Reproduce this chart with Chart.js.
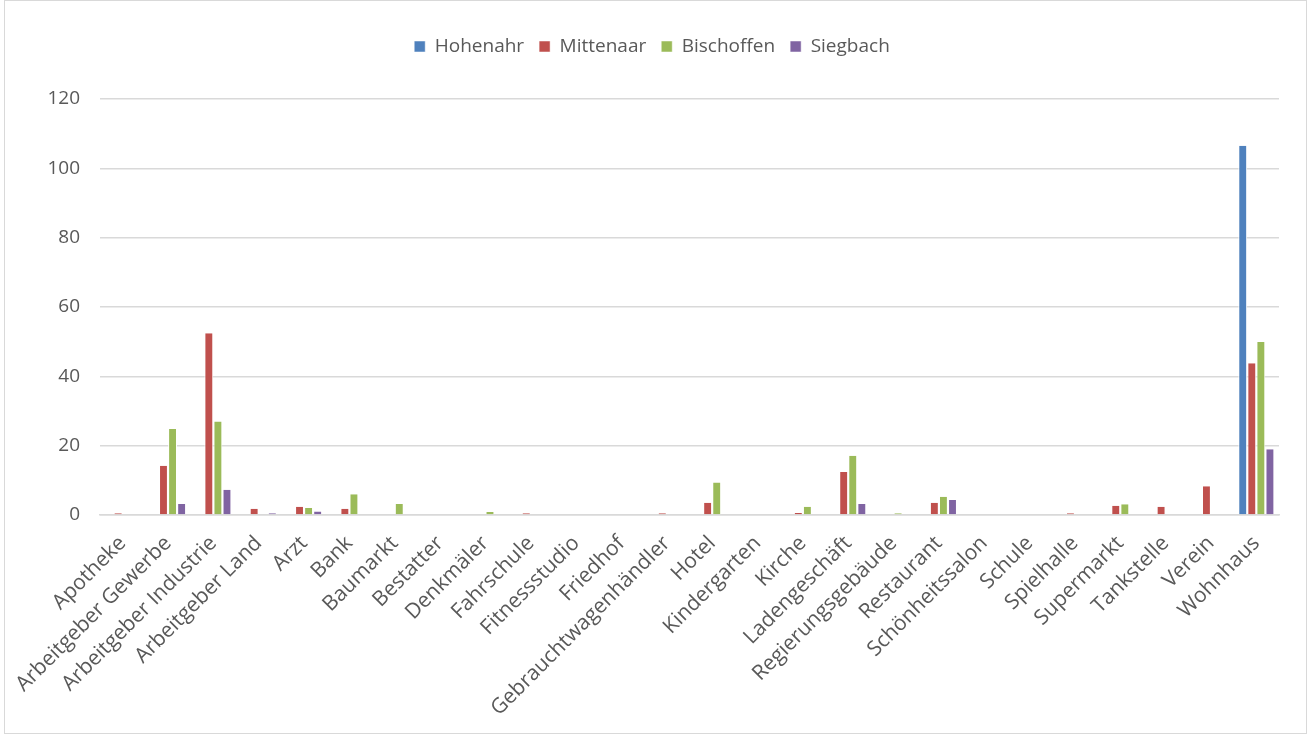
<!DOCTYPE html>
<html>
<head>
<meta charset="utf-8">
<script src="https://cdn.jsdelivr.net/npm/chart.js@4.4.1/dist/chart.umd.min.js"></script>
<style>
  html, body { margin: 0; padding: 0; background: #fff; }
  #wrap { position: absolute; left: 4px; top: 0; width: 1303px; height: 734px; border: 1px solid #d9d9d9; box-sizing: border-box; }
  canvas { display: block; }
</style>
</head>
<body>
<div id="wrap"><canvas id="chart"></canvas></div>
<script>
const categories = [
  'Apotheke', 'Arbeitgeber Gewerbe', 'Arbeitgeber Industrie', 'Arbeitgeber Land', 'Arzt', 'Bank',
  'Baumarkt', 'Bestatter', 'Denkmäler', 'Fahrschule', 'Fitnessstudio', 'Friedhof',
  'Gebrauchtwagenhändler', 'Hotel', 'Kindergarten', 'Kirche', 'Ladengeschäft', 'Regierungsgebäude',
  'Restaurant', 'Schönheitssalon', 'Schule', 'Spielhalle', 'Supermarkt', 'Tankstelle', 'Verein', 'Wohnhaus'
];
const hohenahr =   [0, 0, 0, 0, 0, 0, 0, 0, 0, 0, 0, 0, 0, 0, 0, 0, 0, 0, 0, 0, 0, 0, 0, 0, 0, 106.5];
const mittenaar =  [0.5, 14.2, 52.4, 1.8, 2.4, 1.8, 0, 0, 0, 0.5, 0, 0, 0.5, 3.5, 0, 0.6, 12.4, 0, 3.5, 0, 0, 0.5, 2.7, 2.4, 8.3, 43.8];
const bischoffen = [0, 24.8, 27, 0, 2, 6, 3.2, 0, 0.9, 0, 0, 0, 0, 9.4, 0, 2.4, 17.1, 0.5, 5.3, 0, 0, 0, 3.1, 0, 0, 49.9];
const siegbach =   [0, 3.2, 7.3, 0.5, 1, 0, 0, 0, 0, 0, 0, 0, 0, 0, 0, 0, 3.2, 0, 4.3, 0, 0, 0, 0, 0, 0, 19];
const yTicks = [0, 20, 40, 60, 80, 100, 120];

const textColor = '#595959';
const fontFamily = "'Open Sans', 'Liberation Sans', Arial, sans-serif";

function makeSet(label, data, color) {
  return {
    label: label,
    data: data,
    backgroundColor: color,
    borderColor: '#ffffff',
    borderWidth: { left: 1, right: 1, top: 0, bottom: 0 },
    categoryPercentage: 0.8,
    barPercentage: 0.98
  };
}

// extra space under the legend
const legendMargin = {
  id: 'legendMargin',
  beforeInit(chart) {
    const fit = chart.legend.fit;
    chart.legend.fit = function () {
      fit.bind(chart.legend)();
      this.height += 33;
    };
  }
};

new Chart(document.getElementById('chart').getContext('2d'), {
  type: 'bar',
  data: {
    labels: categories,
    datasets: [
      makeSet('Hohenahr', hohenahr, '#4f81bd'),
      makeSet('Mittenaar', mittenaar, '#c0504d'),
      makeSet('Bischoffen', bischoffen, '#9bbb59'),
      makeSet('Siegbach', siegbach, '#8064a2')
    ]
  },
  plugins: [legendMargin],
  options: {
    responsive: true,
    maintainAspectRatio: false,
    animation: false,
    layout: { padding: { top: 21, left: 20, right: 27, bottom: 0 } },
    plugins: {
      legend: {
        position: 'top',
        labels: {
          boxWidth: 11,
          boxHeight: 11,
          padding: 15,
          color: textColor,
          font: { family: fontFamily, size: 19 }
        }
      },
      tooltip: { enabled: false }
    },
    scales: {
      x: {
        afterFit: scale => { scale.height = 218; },
        grid: { display: false, drawTicks: false },
        border: { display: true, color: '#d9d9d9', width: 1.5 },
        ticks: {
          color: textColor,
          minRotation: 45,
          maxRotation: 45,
          autoSkip: false,
          padding: 16,
          font: { family: fontFamily, size: 21 }
        }
      },
      y: {
        min: 0,
        max: 120,
        afterBuildTicks: scale => { scale.ticks = yTicks.map(v => ({ value: v })); },
        afterFit: scale => { scale.width = 75; },
        grid: { color: '#d9d9d9', lineWidth: 1.5, drawTicks: false },
        border: { display: false },
        ticks: {
          color: textColor,
          padding: 20,
          font: { family: fontFamily, size: 19 }
        }
      }
    }
  }
});
</script>
</body>
</html>
